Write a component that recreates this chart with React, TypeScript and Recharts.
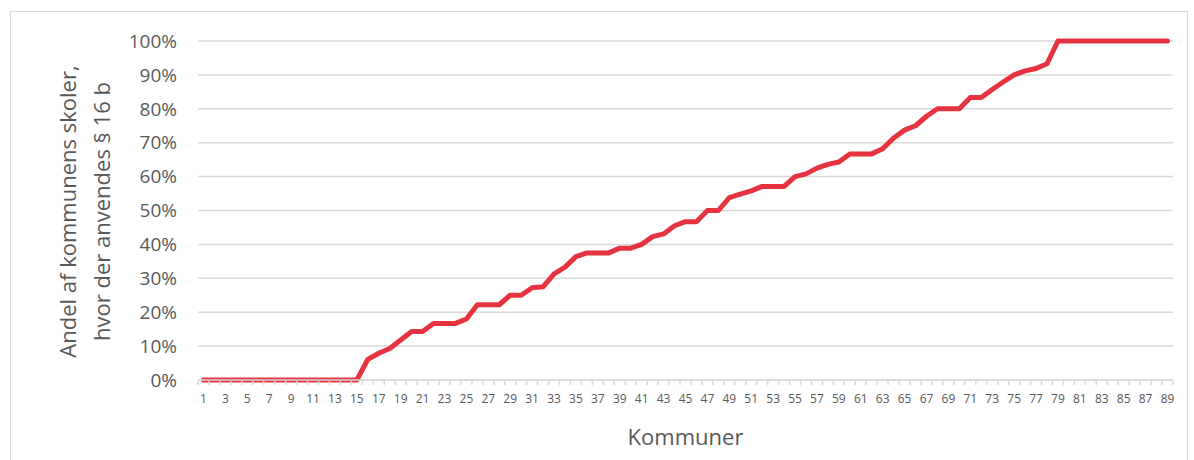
import React from "react";
import { LineChart, Line, XAxis, YAxis, CartesianGrid } from "recharts";

const kommuner: number[] = Array.from({ length: 89 }, (_, i) => i + 1);

const andel: number[] = [
  0, 0, 0, 0, 0, 0, 0, 0, 0, 0,
  0, 0, 0, 0, 0, 6.1, 7.9, 9.3, 11.8, 14.3,
  14.3, 16.7, 16.7, 16.7, 18, 22.2, 22.2, 22.2, 25, 25,
  27.2, 27.5, 31.3, 33.3, 36.4, 37.5, 37.5, 37.5, 38.9, 38.9,
  40, 42.3, 43.1, 45.5, 46.7, 46.7, 50, 50, 53.8, 54.8,
  55.8, 57.1, 57.1, 57.1, 60, 60.8, 62.5, 63.6, 64.3, 66.7,
  66.7, 66.7, 68.2, 71.4, 73.7, 75, 77.8, 80, 80, 80,
  83.3, 83.3, 85.7, 87.9, 90, 91.2, 91.9, 93.3, 100, 100,
  100, 100, 100, 100, 100, 100, 100, 100, 100,
];

const yTicks: number[] = [0, 10, 20, 30, 40, 50, 60, 70, 80, 90, 100];

const yLabelLines: string[] = ["Andel af kommunens skoler,", "hvor der anvendes § 16 b"];
const xLabel = "Kommuner";

const data = kommuner.map((k, i) => ({ kommune: k, andel: andel[i] }));

const FONT = "'Open Sans', Lato, sans-serif";
const TEXT = "#595959";
const GRID = "#D9D9D9";
const PLOT_W = 975;
const BAND = PLOT_W / kommuner.length;

const XTick = (props: any) => {
  const { x, y, payload, index } = props;
  const last = index === kommuner.length - 1;
  return (
    <g>
      <line x1={x - BAND / 2} x2={x - BAND / 2} y1={y - 1} y2={y + 3} stroke={GRID} strokeWidth={1.5} />
      {last && (
        <line x1={x + BAND / 2} x2={x + BAND / 2} y1={y - 1} y2={y + 3} stroke={GRID} strokeWidth={1.5} />
      )}
      {index % 2 === 0 && (
        <text x={x} y={y + 21} textAnchor="middle" fill={TEXT} fontSize={12} fontFamily={FONT}>
          {payload.value}
        </text>
      )}
    </g>
  );
};

const YLabel = (props: any) => {
  const { viewBox } = props;
  const cy = viewBox.y + viewBox.height / 2 + 1;
  return (
    <g>
      {yLabelLines.map((t, i) => (
        <text
          key={t}
          x={76 + i * 34}
          y={cy}
          transform={`rotate(-90 ${76 + i * 34} ${cy})`}
          textAnchor="middle"
          fill={TEXT}
          fontSize={22}
          fontFamily={FONT}
        >
          {t}
        </text>
      ))}
    </g>
  );
};

export default function App() {
  return (
    <div style={{ position: "absolute", left: 0, top: 0, width: 1194, height: 460, background: "#fff", overflow: "hidden" }}>
      <div
        style={{
          position: "absolute",
          left: 10,
          top: 11,
          width: 1176,
          height: 470,
          border: "1px solid #D9D9D9",
        }}
      />
      <div style={{ position: "absolute", left: 0, top: 0 }}>
        <LineChart width={1194} height={460} data={data} margin={{ top: 41, right: 21, bottom: 0, left: 0 }}>
          <CartesianGrid vertical={false} stroke={GRID} strokeWidth={1.5} />
          <XAxis
            dataKey="kommune"
            interval={0}
            height={80}
            padding={{ left: BAND / 2, right: BAND / 2 }}
            axisLine={{ stroke: GRID, strokeWidth: 1.5 }}
            tickLine={false}
            tickSize={0}
            tick={<XTick />}
            label={{ value: xLabel, position: "insideBottom", offset: 15, fill: TEXT, fontSize: 22, fontFamily: FONT }}
          />
          <YAxis
            width={198}
            domain={[0, 100]}
            ticks={yTicks}
            interval={0}
            tickFormatter={(v: number) => `${v}%`}
            axisLine={false}
            tickLine={false}
            tickSize={0}
            tickMargin={21}
            tick={{ fill: TEXT, fontSize: 19, fontFamily: FONT }}
            label={<YLabel />}
          />
          <Line
            type="linear"
            dataKey="andel"
            stroke="#E63340"
            strokeWidth={5}
            strokeLinejoin="round"
            strokeLinecap="round"
            dot={false}
            activeDot={false}
            isAnimationActive={false}
          />
        </LineChart>
      </div>
    </div>
  );
}
